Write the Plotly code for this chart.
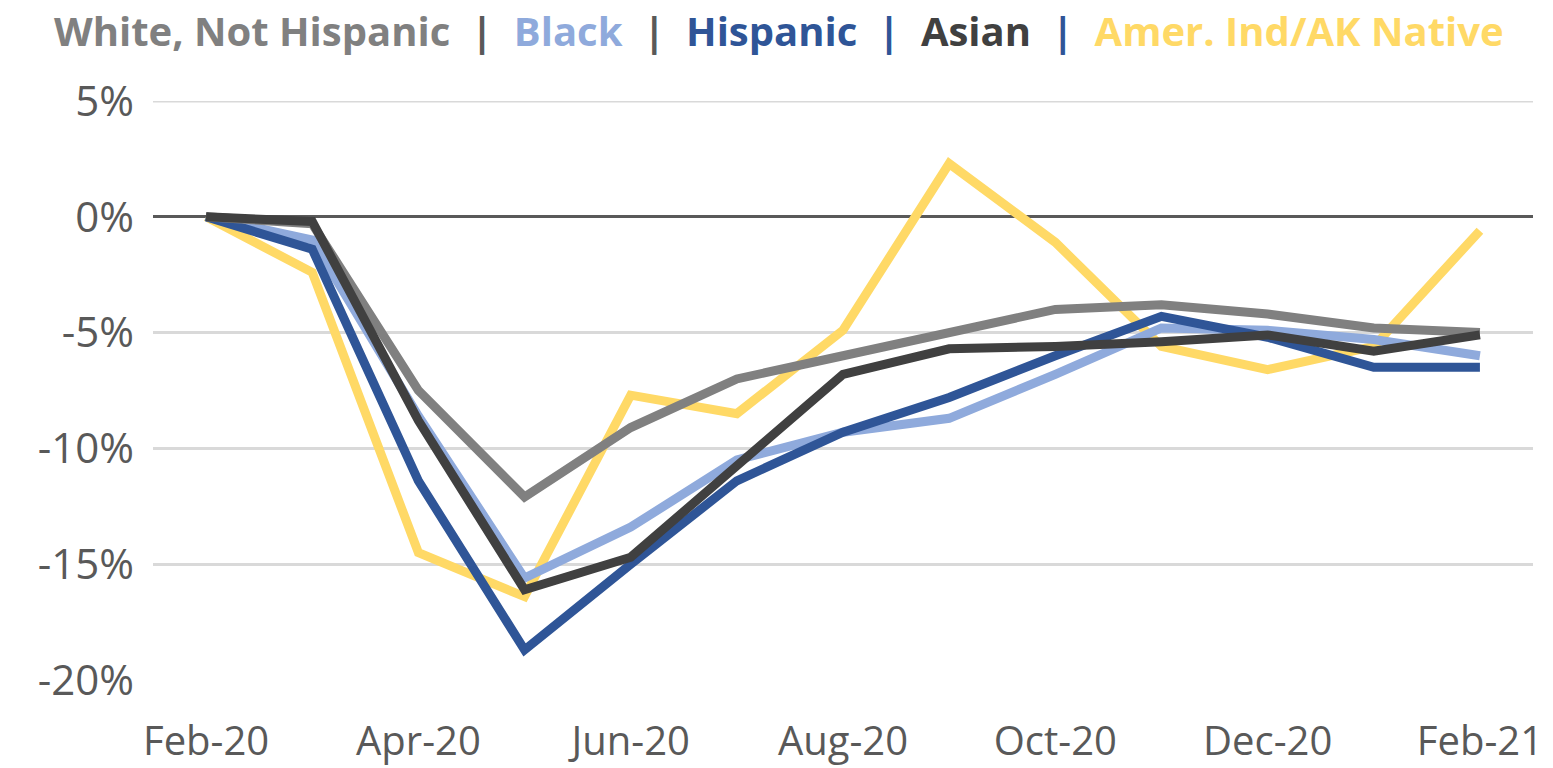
import plotly.graph_objects as go

months = ["Feb-20", "Mar-20", "Apr-20", "May-20", "Jun-20", "Jul-20", "Aug-20",
          "Sep-20", "Oct-20", "Nov-20", "Dec-20", "Jan-21", "Feb-21"]
tick_months = ["Feb-20", "Apr-20", "Jun-20", "Aug-20", "Oct-20", "Dec-20", "Feb-21"]
y_ticks = [-20, -15, -10, -5, 0, 5]
y_tick_labels = ["-20%", "-15%", "-10%", "-5%", "0%", "5%"]

white = [0, -0.3, -7.5, -12.1, -9.1, -7.0, -6.0, -5.0, -4.0, -3.8, -4.2, -4.8, -5.0]
black = [0, -1.0, -8.6, -15.6, -13.4, -10.5, -9.3, -8.7, -6.8, -4.8, -4.9, -5.3, -6.0]
hispanic = [0, -1.4, -11.4, -18.7, -15.0, -11.4, -9.3, -7.8, -6.0, -4.3, -5.2, -6.5, -6.5]
asian = [0, -0.2, -8.8, -16.1, -14.7, -10.8, -6.8, -5.7, -5.6, -5.4, -5.1, -5.8, -5.1]
aian = [0, -2.4, -14.5, -16.4, -7.7, -8.5, -4.9, 2.3, -1.1, -5.6, -6.6, -5.6, -0.6]

series = [
    ("White, Not Hispanic", white, "#808080"),
    ("Black", black, "#8FAADC"),
    ("Hispanic", hispanic, "#2F5597"),
    ("Asian", asian, "#404040"),
    ("Amer. Ind/AK Native", aian, "#FFD966"),
]

fig = go.Figure()
draw_order = [4, 1, 2, 0, 3]
for i in draw_order:
    name, vals, col = series[i]
    fig.add_trace(go.Scatter(x=months, y=vals, mode="lines", name=name,
                             line=dict(color=col, width=9), showlegend=False))

# top gridline (at the plot edge)
fig.add_shape(type="line", xref="paper", x0=0, x1=1, yref="y", y0=5, y1=5,
              line=dict(color="#D9D9D9", width=3), layer="below")

sep_colors = ["#595959", "#595959", "#2F5597", "#2F5597"]
parts = []
for i, (name, vals, col) in enumerate(series):
    parts.append(f"<span style='color:{col}'><b>{name}</b></span>")
    if i < len(sep_colors):
        parts.append(f"<span style='color:{sep_colors[i]}'><b>&nbsp;&nbsp;|&nbsp;&nbsp;</b></span>")
legend_text = "".join(parts)

fig.add_annotation(text=legend_text, xref="paper", yref="paper", x=0.4536, y=1.1226,
                   xanchor="center", yanchor="middle", showarrow=False,
                   font=dict(family="Open Sans", size=40))

# page body has an 8px default margin, so the figure is 8px smaller and shifted
fig.update_layout(
    width=1545, height=760,
    margin=dict(l=145, r=20, t=93, b=88),
    paper_bgcolor="white", plot_bgcolor="white",
    font=dict(family="Open Sans", color="#595959", size=42),
    xaxis=dict(type="category", range=[-0.5, 12.5], tickmode="array",
               tickvals=tick_months, ticktext=tick_months, showgrid=False,
               showline=False, zeroline=False, ticks="", ticklabelstandoff=34,
               automargin=False, tickfont=dict(size=40, color="#595959")),
    yaxis=dict(range=[-20, 5], tickmode="array", tickvals=y_ticks,
               ticktext=y_tick_labels,
               showgrid=True, gridcolor="#D9D9D9", gridwidth=3,
               zeroline=True, zerolinecolor="#595959", zerolinewidth=3,
               showline=False, ticks="", ticklabelstandoff=18, automargin=False,
               tickfont=dict(size=42, color="#595959")),
)

fig.write_html("out.html")
